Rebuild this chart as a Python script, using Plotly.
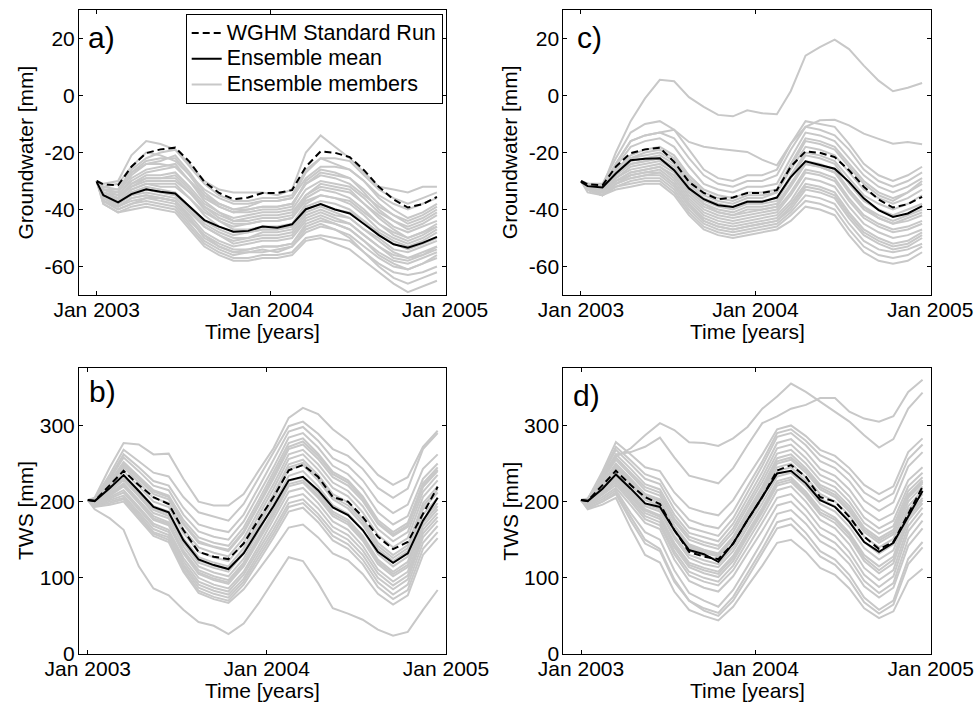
import plotly.graph_objects as go

dates = ["2003-01-01", "2003-01-15", "2003-02-15", "2003-03-15", "2003-04-15", "2003-05-15",
         "2003-06-15", "2003-07-15", "2003-08-15", "2003-09-15", "2003-10-15", "2003-11-15",
         "2003-12-15", "2004-01-15", "2004-02-15", "2004-03-15", "2004-04-15", "2004-05-15",
         "2004-06-15", "2004-07-15", "2004-08-15", "2004-09-15", "2004-10-15", "2004-11-15",
         "2004-12-15"]

tick_dates = ["2003-01-01", "2004-01-01", "2005-01-01"]
tick_text = ["Jan 2003", "Jan 2004", "Jan 2005"]

# ---------------- Groundwater (panels a and c) ----------------
gw_wghm = [-30, -31.2, -31.5, -25, -20.2, -18.9, -18.3, -23.3, -30.3, -34.2, -36.4, -35.8, -34.2,
           -34.2, -33.2, -25, -19.6, -20.1, -21.6, -26.2, -32, -36.5, -39.3, -38.1, -35.6]

gw_mean_a = [-30.3, -35, -37.5, -34.6, -32.9, -33.8, -34.4, -39, -43.7, -46, -47.8, -47.5, -46,
             -46.4, -45.2, -39.9, -38.1, -40, -41.4, -45.1, -49, -52.2, -53.4, -51.7, -49.6]

gw_members_a = [
    [-30, -31, -30, -21, -16, -17, -19, -24, -30, -33, -34, -34, -34, -35, -33, -20, -14, -18, -22, -27, -32, -33, -34, -32, -32],
    [-30, -32, -33, -26, -22, -20, -19, -25, -31, -35, -37, -37, -36, -36, -35, -26, -22, -22, -23, -28, -33, -36, -38, -36, -34],
    [-30, -33, -34, -28, -24, -23, -21, -27, -34, -38, -40, -39, -37, -37, -36, -29, -25, -25, -26, -30, -36, -40, -43, -41, -38],
    [-30, -33, -35, -30, -27, -26, -25, -30, -36, -39, -41, -40, -39, -39, -38, -31, -27, -28, -29, -33, -38, -42, -45, -43, -40],
    [-30, -34, -36, -31, -28, -28, -27, -32, -38, -41, -43, -42, -41, -41, -40, -33, -30, -31, -32, -36, -41, -44, -47, -45, -42],
    [-30, -34, -36, -32, -30, -30, -30, -34, -39, -42, -44, -43, -42, -42, -41, -35, -32, -33, -34, -38, -42, -46, -48, -46, -44],
    [-30, -35, -37, -33, -31, -32, -32, -36, -41, -44, -46, -45, -44, -44, -43, -37, -35, -36, -37, -41, -45, -48, -50, -48, -46],
    [-30, -35, -37, -34, -33, -34, -35, -39, -44, -47, -49, -48, -47, -47, -46, -40, -38, -40, -41, -44, -48, -51, -53, -51, -48],
    [-30, -36, -38, -35, -34, -35, -36, -41, -46, -49, -51, -50, -49, -49, -48, -42, -40, -42, -43, -47, -50, -54, -55, -53, -51],
    [-30, -36, -39, -36, -35, -36, -37, -42, -48, -51, -53, -52, -51, -51, -50, -44, -42, -44, -45, -49, -53, -56, -57, -55, -53],
    [-30, -37, -39, -37, -36, -37, -38, -44, -49, -52, -54, -54, -53, -53, -52, -46, -44, -45, -47, -51, -55, -58, -59, -57, -55],
    [-30, -37, -40, -38, -37, -38, -39, -45, -51, -54, -56, -55, -55, -54, -53, -48, -46, -47, -49, -53, -57, -60, -61, -59, -57],
    [-30, -38, -41, -39, -38, -39, -40, -46, -52, -55, -57, -57, -56, -56, -55, -50, -49, -50, -51, -55, -59, -62, -63, -62, -60],
    [-30, -38, -41, -40, -39, -40, -41, -47, -53, -56, -58, -58, -57, -57, -56, -51, -50, -52, -54, -58, -62, -66, -69, -67, -65],
    [-30, -37, -40, -38, -36, -36, -37, -43, -50, -53, -55, -55, -54, -55, -53, -47, -45, -47, -50, -55, -60, -64, -66, -64, -62],
    [-30, -33, -34, -27, -23, -22, -22, -28, -35, -39, -41, -41, -40, -40, -39, -30, -26, -27, -29, -34, -40, -44, -46, -44, -41],
    [-30, -34, -35, -29, -26, -25, -24, -30, -37, -41, -44, -44, -43, -43, -42, -35, -31, -32, -33, -38, -43, -47, -50, -48, -45],
    [-30, -35, -36, -31, -29, -29, -29, -34, -40, -44, -47, -47, -46, -46, -45, -38, -35, -36, -38, -42, -47, -50, -52, -50, -47],
    [-30, -32, -31, -25, -20, -21, -23, -28, -33, -36, -38, -38, -37, -37, -36, -27, -22, -24, -26, -30, -35, -38, -40, -38, -36],
    [-30, -36, -38, -34, -32, -33, -34, -39, -45, -48, -50, -50, -48, -48, -47, -41, -39, -41, -43, -47, -51, -55, -57, -56, -54],
    [-30, -34, -36, -32, -29, -29, -28, -33, -39, -43, -45, -45, -44, -44, -43, -36, -33, -34, -36, -40, -45, -49, -51, -49, -46],
    [-30, -36, -38, -35, -33, -34, -35, -40, -46, -49, -52, -51, -50, -50, -49, -43, -41, -43, -45, -49, -53, -57, -58, -56, -53],
    [-30, -37, -39, -36, -35, -36, -37, -43, -49, -53, -55, -54, -53, -53, -52, -45, -43, -45, -47, -51, -56, -59, -61, -59, -56],
    [-30, -35, -37, -33, -31, -31, -31, -36, -42, -46, -48, -48, -47, -47, -46, -39, -37, -38, -40, -44, -49, -52, -54, -52, -50],
    [-30, -33, -33, -27, -24, -24, -25, -30, -35, -38, -40, -40, -39, -39, -38, -31, -28, -29, -31, -35, -39, -42, -44, -42, -39],
]

gw_mean_c = [-30.3, -31.8, -32.3, -27.4, -22.7, -22.2, -22, -26.2, -32.6, -36.4, -38.5, -39.1, -37.3,
             -37.3, -35.8, -28.6, -23.1, -24.3, -25.7, -30.3, -36.1, -40.2, -42.6, -41.4, -38.8]

gw_members_c = [
    [-30, -31, -32, -20, -9, -1, 5.5, 5, -0.6, -4, -6.8, -7.3, -5.2, -6.2, -6.6, 1.5, 14, 17, 19.6, 16.3, 10.5, 5.2, 1.5, 2.7, 4.4],
    [-30, -31, -32, -24, -16, -14, -13, -12, -16.3, -18, -18.7, -19.2, -19.8, -22.5, -24.5, -17, -11, -8.7, -8.5, -10.5, -13.4, -15.2, -16.9, -16.3, -17.1],
    [-30, -31, -31, -22, -13, -10, -9, -12, -19, -26, -29, -30, -28, -28, -26, -17, -9, -10, -11, -17, -24, -28, -30, -28, -25],
    [-30, -31, -32, -24, -16, -14, -13, -15, -22, -28, -31, -32, -30, -30, -28, -19, -11, -12, -14, -19, -26, -30, -32, -30, -27],
    [-30, -31, -32, -25, -18, -16, -15, -18, -25, -31, -33, -34, -32, -32, -31, -22, -13, -14, -16, -22, -28, -32, -34, -32, -29],
    [-30, -32, -33, -26, -21, -19, -18, -21, -28, -33, -35, -36, -34, -34, -33, -24, -15, -16, -18, -24, -30, -34, -36, -34, -31],
    [-30, -32, -33, -27, -22, -20, -19, -22, -29, -34, -36, -37, -35, -35, -34, -26, -18, -19, -21, -27, -33, -36, -38, -36, -33],
    [-30, -32, -33, -28, -23, -22, -21, -24, -31, -36, -38, -39, -37, -37, -36, -28, -20, -21, -23, -29, -35, -38, -40, -38, -35],
    [-30, -32, -33, -28, -24, -23, -22, -25, -32, -37, -39, -40, -38, -38, -37, -29, -21, -22, -24, -31, -37, -40, -42, -40, -38],
    [-30, -32, -34, -29, -25, -24, -23, -26, -33, -38, -40, -41, -39, -39, -38, -31, -23, -24, -26, -33, -39, -42, -44, -42, -40],
    [-30, -32, -34, -29, -26, -25, -24, -27, -34, -39, -41, -42, -41, -40, -39, -32, -24, -25, -27, -34, -40, -43, -45, -44, -42],
    [-30, -32, -34, -30, -27, -26, -25, -28, -35, -40, -42, -43, -42, -41, -40, -34, -26, -27, -29, -36, -42, -45, -47, -46, -44],
    [-30, -33, -34, -30, -27, -26, -25, -29, -36, -41, -43, -44, -43, -42, -41, -35, -27, -28, -30, -37, -43, -46, -48, -47, -45],
    [-30, -33, -34, -30, -28, -27, -26, -30, -37, -42, -44, -45, -44, -43, -42, -37, -29, -30, -32, -39, -45, -48, -50, -49, -47],
    [-30, -33, -35, -31, -29, -28, -27, -31, -38, -43, -45, -46, -45, -44, -43, -38, -31, -32, -34, -41, -47, -50, -52, -51, -48],
    [-30, -33, -35, -31, -29, -28, -28, -32, -39, -44, -46, -47, -46, -45, -44, -40, -33, -34, -36, -43, -49, -52, -54, -53, -50],
    [-30, -33, -35, -32, -30, -29, -29, -33, -40, -45, -47, -48, -47, -46, -45, -41, -35, -36, -38, -45, -51, -54, -55, -54, -52],
    [-30, -33, -35, -32, -31, -30, -30, -34, -41, -46, -48, -49, -48, -47, -46, -42, -37, -38, -40, -47, -53, -56, -57, -56, -53],
    [-30, -34, -35, -33, -32, -31, -31, -35, -42, -47, -49, -50, -49, -48, -47, -44, -39, -40, -42, -49, -55, -58, -59, -58, -55],
    [-30, -32, -33, -27, -22, -21, -20, -23, -30, -35, -37, -38, -36, -36, -34, -25, -16, -17, -19, -25, -31, -35, -37, -34, -30],
    [-30, -32, -33, -28, -24, -23, -22, -26, -33, -38, -41, -42, -40, -40, -39, -31, -24, -25, -27, -33, -39, -43, -45, -43, -41],
    [-30, -33, -35, -31, -28, -27, -27, -31, -38, -44, -46, -47, -46, -45, -44, -39, -32, -33, -35, -42, -48, -51, -53, -52, -49],
]

# ---------------- TWS (panels b and d) ----------------
tws_wghm = [202, 201, 221.7, 240.5, 221.7, 206, 196.8, 162.7, 134, 127.7, 124.6, 145, 175.8,
            206, 241, 248, 232.6, 206, 200, 180, 154, 137.7, 147, 184.5, 219.5]

tws_mean_b = [202, 200.7, 218, 234.8, 214, 193, 186, 149.5, 124, 116.7, 111.5, 132, 163,
              194, 228, 232.6, 215, 192.4, 182.3, 162.7, 134, 119.8, 132, 175, 205]

tws_members_b = [
    [202, 205, 245, 277, 275, 262, 263, 230, 200, 195, 195, 210, 240, 270, 310, 323, 315, 295, 280, 258, 235, 222, 232, 272, 293],
    [202, 204, 236, 268, 253, 238, 233, 206, 186, 180, 175, 197, 230, 263, 299, 305, 289, 269, 260, 243, 218, 205, 217, 269, 290],
    [202, 203, 232, 262, 245, 227, 221, 192, 170, 164, 160, 183, 218, 254, 292, 298, 280, 257, 247, 228, 200, 185, 196, 243, 262],
    [202, 202, 229, 258, 240, 221, 215, 183, 161, 154, 150, 174, 209, 245, 284, 290, 271, 247, 236, 216, 186, 170, 181, 230, 250],
    [202, 201, 226, 252, 233, 215, 208, 176, 153, 146, 142, 166, 201, 238, 277, 283, 263, 239, 228, 207, 176, 160, 172, 224, 245],
    [202, 201, 224, 248, 229, 210, 203, 170, 146, 140, 135, 159, 194, 230, 269, 275, 256, 232, 221, 201, 171, 155, 167, 219, 240],
    [202, 200, 222, 245, 225, 205, 198, 164, 140, 133, 128, 152, 187, 223, 262, 268, 249, 225, 214, 194, 164, 148, 160, 213, 235],
    [202, 200, 220, 240, 220, 200, 193, 159, 134, 127, 122, 146, 181, 217, 256, 262, 242, 218, 207, 186, 156, 140, 152, 206, 228],
    [202, 199, 217, 235, 215, 194, 187, 152, 127, 120, 115, 139, 174, 210, 249, 255, 235, 210, 199, 178, 146, 130, 143, 198, 220],
    [202, 199, 215, 230, 209, 189, 181, 146, 120, 113, 108, 132, 167, 203, 242, 248, 228, 203, 191, 170, 138, 122, 135, 190, 212],
    [202, 198, 213, 228, 207, 185, 178, 141, 115, 107, 102, 125, 160, 196, 234, 240, 220, 195, 184, 163, 131, 115, 128, 183, 205],
    [202, 198, 211, 224, 202, 181, 173, 136, 110, 102, 97, 120, 154, 189, 227, 232, 212, 187, 176, 155, 124, 108, 121, 176, 198],
    [202, 197, 208, 220, 198, 176, 169, 132, 105, 97, 92, 115, 148, 182, 220, 225, 205, 181, 170, 149, 118, 102, 114, 168, 190],
    [202, 197, 206, 215, 193, 171, 163, 126, 100, 91, 86, 108, 141, 176, 213, 218, 198, 174, 163, 142, 111, 95, 108, 163, 185],
    [202, 196, 204, 212, 190, 168, 160, 122, 95, 87, 82, 104, 136, 169, 205, 210, 191, 167, 156, 136, 106, 90, 103, 158, 180],
    [202, 196, 202, 208, 186, 164, 156, 118, 91, 83, 78, 99, 131, 163, 198, 203, 184, 161, 150, 130, 100, 85, 98, 153, 175],
    [202, 195, 200, 205, 183, 160, 153, 115, 87, 79, 74, 95, 126, 158, 193, 198, 179, 155, 144, 124, 94, 78, 91, 146, 168],
    [202, 194, 198, 203, 180, 158, 150, 111, 83, 75, 70, 91, 121, 153, 187, 192, 173, 149, 138, 118, 88, 72, 84, 138, 160],
    [202, 193, 196, 200, 177, 155, 147, 108, 80, 72, 67, 85, 110, 137, 166, 170, 153, 132, 123, 105, 79, 65, 77, 130, 152],
    [202, 190, 178, 163, 115, 86, 77, 58, 42, 37, 26, 40, 66, 97, 127, 122, 93, 60, 53, 45, 32, 24, 29, 58, 84],
    [202, 201, 225, 250, 232, 213, 206, 172, 148, 141, 137, 161, 196, 233, 272, 279, 260, 236, 225, 204, 173, 157, 169, 221, 242],
    [202, 199, 216, 232, 212, 191, 184, 149, 123, 116, 111, 134, 169, 206, 245, 251, 231, 206, 195, 174, 142, 126, 139, 194, 216],
    [202, 197, 209, 222, 200, 178, 171, 134, 107, 99, 94, 117, 151, 185, 223, 228, 208, 184, 173, 152, 121, 105, 117, 172, 194],
]

tws_mean_d = [202, 200.7, 217, 235.7, 217, 197.6, 193, 162.7, 136.4, 131, 121, 145, 175.8,
              206, 237, 240.5, 224, 202, 193, 173.5, 147, 134, 146, 180.6, 214]

tws_members_d = [
    [202, 204, 235, 259, 270, 287, 303, 294, 278, 277, 273, 283, 298, 322, 338, 355, 344, 331, 318, 305, 287, 271, 282, 322, 343],
    [202, 203, 232, 262, 265, 272, 284, 258, 234, 229, 224, 244, 274, 303, 312, 322, 327, 336, 336, 318, 309, 305, 312, 344, 360],
    [202, 203, 240, 278, 262, 245, 240, 212, 192, 186, 182, 202, 232, 262, 295, 300, 286, 268, 260, 244, 222, 210, 220, 265, 283],
    [202, 202, 237, 272, 254, 236, 229, 198, 176, 169, 165, 187, 220, 253, 290, 295, 280, 261, 252, 236, 212, 200, 211, 256, 275],
    [202, 202, 235, 268, 249, 230, 223, 190, 166, 160, 155, 178, 212, 247, 285, 290, 274, 253, 244, 227, 201, 188, 199, 246, 265],
    [202, 201, 231, 262, 243, 223, 216, 183, 159, 153, 148, 171, 204, 239, 277, 282, 265, 243, 234, 216, 189, 175, 185, 228, 245],
    [202, 201, 229, 258, 238, 219, 212, 178, 154, 147, 142, 165, 198, 232, 270, 275, 257, 235, 226, 207, 179, 165, 175, 220, 238],
    [202, 200, 228, 255, 235, 215, 208, 174, 150, 143, 138, 160, 193, 226, 263, 268, 250, 228, 219, 200, 172, 158, 168, 214, 232],
    [202, 200, 225, 250, 230, 210, 203, 169, 144, 137, 132, 154, 187, 220, 257, 262, 244, 222, 213, 194, 166, 152, 163, 209, 228],
    [202, 200, 222, 245, 225, 205, 198, 164, 140, 133, 128, 150, 181, 214, 250, 255, 238, 216, 206, 187, 160, 146, 157, 205, 224],
    [202, 199, 220, 242, 222, 202, 195, 161, 136, 129, 124, 145, 177, 210, 245, 250, 232, 210, 200, 182, 154, 140, 151, 200, 220],
    [202, 199, 218, 238, 218, 197, 190, 155, 130, 123, 118, 140, 171, 204, 240, 245, 227, 204, 194, 175, 147, 132, 144, 194, 215],
    [202, 198, 216, 235, 214, 194, 187, 152, 126, 118, 114, 135, 166, 198, 233, 238, 220, 197, 187, 167, 139, 124, 136, 189, 210],
    [202, 198, 214, 232, 211, 190, 182, 146, 120, 113, 108, 129, 160, 192, 227, 232, 213, 190, 179, 159, 130, 115, 128, 183, 205],
    [202, 197, 212, 228, 206, 185, 177, 140, 114, 106, 101, 122, 154, 186, 221, 226, 207, 183, 172, 152, 122, 106, 119, 175, 198],
    [202, 197, 211, 225, 203, 181, 173, 135, 108, 100, 95, 116, 148, 180, 215, 220, 200, 176, 165, 144, 113, 97, 110, 168, 192],
    [202, 196, 209, 222, 200, 177, 169, 131, 103, 95, 90, 110, 140, 172, 205, 210, 190, 166, 155, 134, 104, 88, 102, 161, 185],
    [202, 195, 206, 218, 195, 172, 164, 124, 96, 87, 82, 102, 132, 162, 195, 200, 181, 157, 146, 126, 96, 80, 93, 151, 175],
    [202, 194, 203, 215, 185, 160, 150, 110, 80, 70, 62, 84, 115, 148, 184, 189, 171, 148, 137, 118, 89, 74, 87, 142, 165],
    [202, 192, 200, 210, 175, 145, 135, 95, 70, 60, 54, 75, 106, 138, 173, 178, 159, 135, 124, 104, 74, 58, 70, 125, 147],
    [202, 190, 196, 205, 165, 130, 120, 82, 58, 50, 44, 62, 89, 116, 146, 150, 134, 113, 104, 86, 60, 47, 56, 96, 112],
    [202, 191, 200, 212, 180, 150, 138, 98, 70, 57, 50, 70, 100, 132, 165, 170, 151, 128, 117, 97, 68, 53, 65, 118, 140],
    [202, 200, 224, 248, 228, 208, 201, 167, 142, 135, 130, 152, 184, 217, 253, 258, 241, 219, 209, 190, 163, 149, 160, 207, 226],
    [202, 198, 213, 230, 208, 188, 180, 143, 117, 110, 105, 126, 157, 189, 224, 229, 210, 186, 176, 156, 126, 110, 124, 179, 202],
]

legend_names = ["WGHM Standard Run", "Ensemble mean", "Ensemble members"]
x_title = "Time [years]"
y_titles = ["Groundwater [mm]", "Groundwater [mm]", "TWS [mm]", "TWS [mm]"]
panel_letters = ["a)", "c)", "b)", "d)"]

GRAY = "#c8c8c8"
FONT = "Liberation Sans, Arial, Helvetica, sans-serif"


def big(name):
    return '<span style="font-size:21.5px">' + name + '</span>'


panels = [
    ("x", "y", gw_members_a, gw_mean_a, gw_wghm, True),
    ("x2", "y2", gw_members_c, gw_mean_c, gw_wghm, False),
    ("x3", "y3", tws_members_b, tws_mean_b, tws_wghm, False),
    ("x4", "y4", tws_members_d, tws_mean_d, tws_wghm, False),
]

fig = go.Figure()
for xa, ya, members, mean, wghm, show in panels:
    for i, m in enumerate(members):
        fig.add_trace(go.Scatter(
            x=dates, y=m, xaxis=xa, yaxis=ya, mode="lines",
            line=dict(color=GRAY, width=2),
            name=big(legend_names[2]), legendrank=3,
            showlegend=(show and i == 0), hoverinfo="skip"))
    fig.add_trace(go.Scatter(
        x=dates, y=wghm, xaxis=xa, yaxis=ya, mode="lines",
        line=dict(color="black", width=2, dash="7px,4px"),
        name=big(legend_names[0]), legendrank=1, showlegend=show))
    fig.add_trace(go.Scatter(
        x=dates, y=mean, xaxis=xa, yaxis=ya, mode="lines",
        line=dict(color="black", width=2),
        name=big(legend_names[1]), legendrank=2, showlegend=show))

W, H = 977, 704
left_dom = [79 / W, 446 / W]
right_dom = [563.3 / W, 930.7 / W]
top_dom = [1 - 295 / H, 1 - 10 / H]
bot_dom = [1 - 654 / H, 1 - 368.3 / H]

tickfont = dict(family=FONT, size=21, color="black")


def xax(dom, anchor, rng):
    return dict(domain=dom, anchor=anchor, range=rng, type="date", automargin=False,
                tickvals=tick_dates, ticktext=tick_text, ticks="inside", ticklen=4,
                tickcolor="black", showline=True, linecolor="black", linewidth=1,
                mirror="ticks", showgrid=False, zeroline=False, tickfont=tickfont,
                ticklabelstandoff=-4)


def yax(dom, anchor, rng, tv):
    return dict(domain=dom, anchor=anchor, range=rng, tickvals=tv,
                ticktext=[str(v) for v in tv], automargin=False,
                ticks="inside", ticklen=4, tickcolor="black", showline=True,
                linecolor="black", linewidth=1, mirror="ticks", showgrid=False,
                zeroline=False, tickfont=tickfont, ticklabelstandoff=-1)


gw_ticks = [-60, -40, -20, 0, 20]
tws_ticks = [0, 100, 200, 300]

fig.update_layout(
    width=W, height=H,
    margin=dict(l=0, r=0, t=0, b=0, autoexpand=False),
    paper_bgcolor="white", plot_bgcolor="white",
    font=dict(family=FONT, color="black"),
    showlegend=True,
    xaxis=xax(left_dom, "y", ["2002-11-25", "2005-01-03"]),
    yaxis=yax(top_dom, "x", [-70, 30], gw_ticks),
    xaxis2=xax(right_dom, "y2", ["2002-11-25", "2005-01-02"]),
    yaxis2=yax(top_dom, "x2", [-70, 30], gw_ticks),
    xaxis3=xax(left_dom, "y3", ["2002-12-14", "2005-01-01"]),
    yaxis3=yax(bot_dom, "x3", [0, 375], tws_ticks),
    xaxis4=xax(right_dom, "y4", ["2002-11-25", "2005-01-01"]),
    yaxis4=yax(bot_dom, "x4", [0, 375], tws_ticks),
    legend=dict(x=185.7 / W, y=1 - 14 / H, xanchor="left", yanchor="top",
                bgcolor="white", bordercolor="black", borderwidth=1,
                font=dict(family=FONT, size=17.5, color="black"),
                tracegroupgap=0, itemwidth=30),
)

# panel letters
for txt, px, py in zip(panel_letters, [86, 575, 87, 571], [37.5, 37.5, 392, 395]):
    fig.add_annotation(text=txt, xref="paper", yref="paper", x=px / W, y=1 - py / H,
                       xanchor="left", yanchor="middle", showarrow=False,
                       font=dict(family=FONT, size=30, color="black"))

# axis titles
x_centers = [(79 + 446) / 2, (563.3 + 930.7) / 2, (79 + 446) / 2, (563.3 + 930.7) / 2]
x_title_y = [331.8, 331.8, 690.8, 690.8]
for cx, cy in zip(x_centers, x_title_y):
    fig.add_annotation(text=x_title, xref="paper", yref="paper", x=cx / W, y=1 - cy / H,
                       xanchor="center", yanchor="middle", showarrow=False, font=tickfont)

y_title_x = [25, 509.7, 25, 509.7]
y_title_y = [152.5, 152.5, 511, 511]
for txt, cx, cy in zip(y_titles, y_title_x, y_title_y):
    fig.add_annotation(text=txt, xref="paper", yref="paper", x=cx / W, y=1 - cy / H,
                       xanchor="center", yanchor="middle", showarrow=False,
                       textangle=-90, font=tickfont)

fig.write_html("out.html")
